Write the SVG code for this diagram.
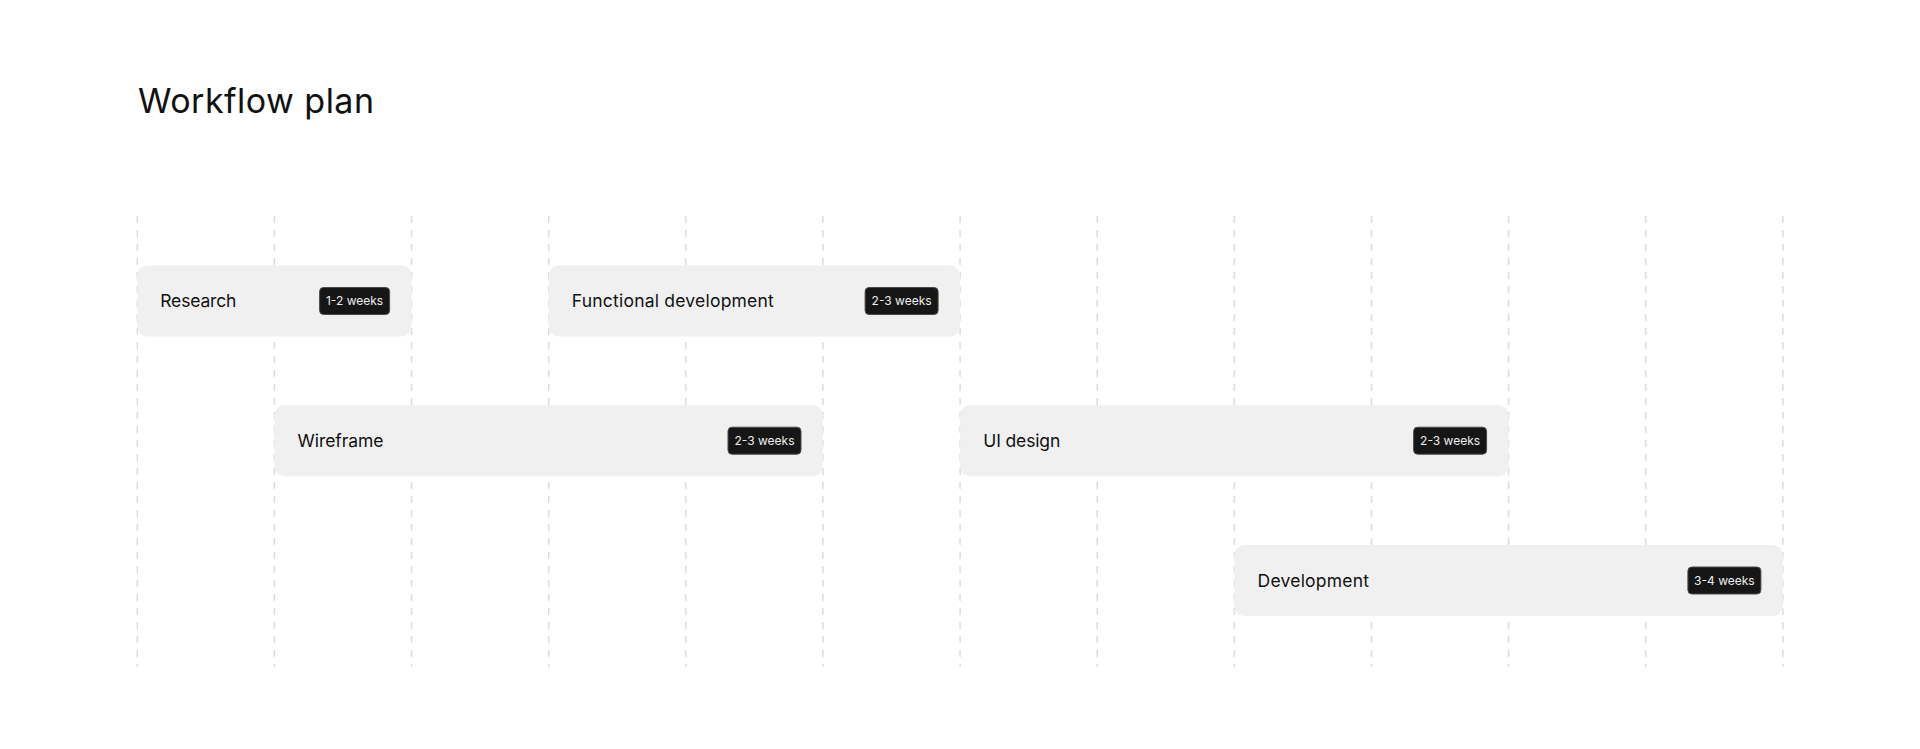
<svg xmlns="http://www.w3.org/2000/svg" width="1920" height="749" viewBox="0 0 1920 749">
  <style>
    .grid line { stroke: #dcdcdc; stroke-width: 1.5; stroke-dasharray: 7 7; }
    .bar { fill: #f0f0f0; }
    .label { font-family: Inter, "Noto Sans", "Liberation Sans", sans-serif; font-size: 17.5px; fill: #111111; }
    .badge { fill: #161616; stroke: #4a4a4a; stroke-width: 1; }
    .badge-text { font-family: Inter, "Noto Sans", "Liberation Sans", sans-serif; font-size: 12px; fill: #eeeeee; text-anchor: middle; }
    .title { font-family: Inter, "Noto Sans", "Liberation Sans", sans-serif; font-size: 34px; fill: #111111; }
  </style>
  <rect width="1920" height="749" fill="#ffffff"/>
  <text class="title" x="138" y="113" textLength="236" lengthAdjust="spacing">Workflow plan</text>

  <g id="connectors" class="grid">
    <line x1="137.3" y1="216" x2="137.3" y2="667"/>
    <line x1="274.4" y1="216" x2="274.4" y2="667"/>
    <line x1="411.6" y1="216" x2="411.6" y2="667"/>
    <line x1="548.7" y1="216" x2="548.7" y2="667"/>
    <line x1="685.8" y1="216" x2="685.8" y2="667"/>
    <line x1="822.9" y1="216" x2="822.9" y2="667"/>
    <line x1="960.1" y1="216" x2="960.1" y2="667"/>
    <line x1="1097.2" y1="216" x2="1097.2" y2="667"/>
    <line x1="1234.3" y1="216" x2="1234.3" y2="667"/>
    <line x1="1371.5" y1="216" x2="1371.5" y2="667"/>
    <line x1="1508.6" y1="216" x2="1508.6" y2="667"/>
    <line x1="1645.7" y1="216" x2="1645.7" y2="667"/>
    <line x1="1782.9" y1="216" x2="1782.9" y2="667"/>
  </g>

  <g id="research">
    <rect class="bar" x="137.3" y="265.5" width="274.3" height="71" rx="10"/>
    <text class="label" x="160.3" y="307" textLength="76" lengthAdjust="spacing">Research</text>
    <rect class="badge" x="319.6" y="287.5" width="70" height="27" rx="4"/>
    <text class="badge-text" x="354.6" y="305.3">1-2 weeks</text>
  </g>

  <g id="functional-development">
    <rect class="bar" x="548.7" y="265.5" width="411.4" height="71" rx="10"/>
    <text class="label" x="571.8" y="307" textLength="202" lengthAdjust="spacing">Functional development</text>
    <rect class="badge" x="865.1" y="287.5" width="73" height="27" rx="4"/>
    <text class="badge-text" x="901.6" y="305.3">2-3 weeks</text>
  </g>

  <g id="wireframe">
    <rect class="bar" x="274.4" y="405.2" width="548.5" height="71" rx="10"/>
    <text class="label" x="297.5" y="446.7" textLength="86" lengthAdjust="spacing">Wireframe</text>
    <rect class="badge" x="728" y="427.2" width="73" height="27" rx="4"/>
    <text class="badge-text" x="764.5" y="445">2-3 weeks</text>
  </g>

  <g id="ui-design">
    <rect class="bar" x="960.1" y="405.2" width="548.5" height="71" rx="10"/>
    <text class="label" x="983.3" y="446.7" textLength="77" lengthAdjust="spacing">UI design</text>
    <rect class="badge" x="1413.6" y="427.2" width="73" height="27" rx="4"/>
    <text class="badge-text" x="1450.1" y="445">2-3 weeks</text>
  </g>

  <g id="development">
    <rect class="bar" x="1234.3" y="545" width="548.6" height="71" rx="10"/>
    <text class="label" x="1257.6" y="586.5" textLength="111.4" lengthAdjust="spacing">Development</text>
    <rect class="badge" x="1687.9" y="567" width="73" height="27" rx="4"/>
    <text class="badge-text" x="1724.4" y="584.8">3-4 weeks</text>
  </g>
</svg>
